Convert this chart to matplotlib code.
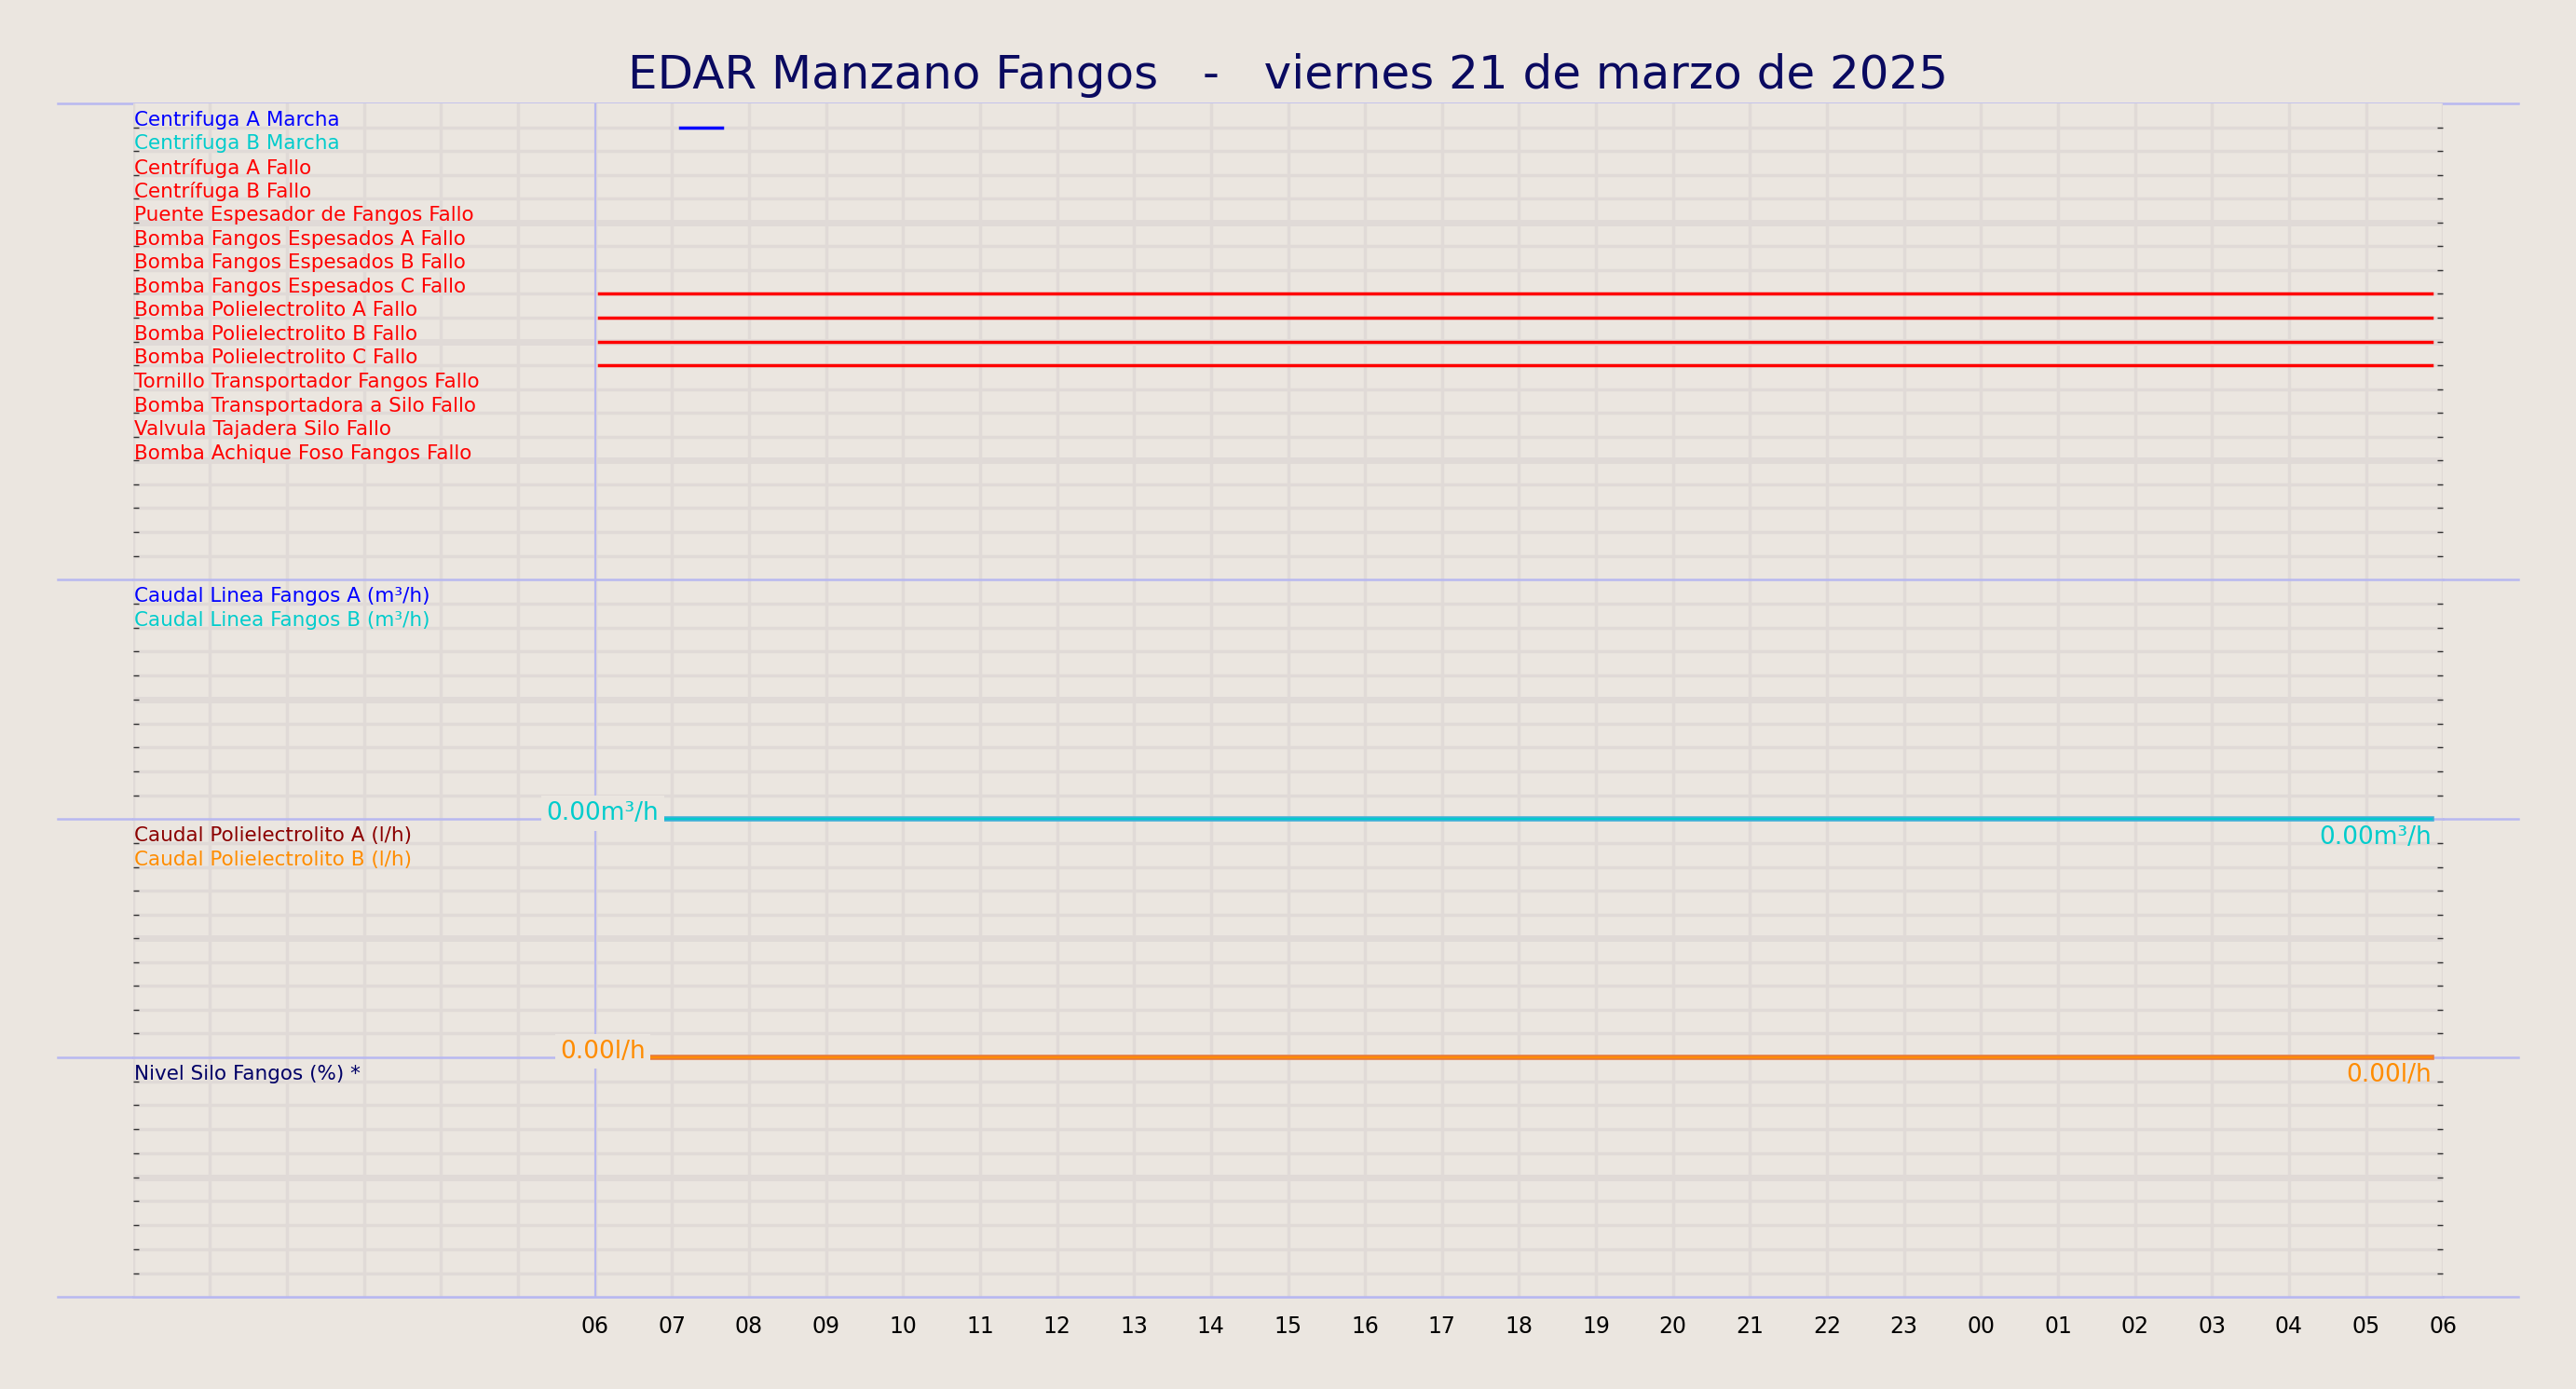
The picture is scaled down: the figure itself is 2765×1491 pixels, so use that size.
import matplotlib
matplotlib.use("Agg")
import matplotlib.pyplot as plt
import numpy as np

title = "EDAR Manzano Fangos   -   viernes 21 de marzo de 2025"
digital_labels = ["Centrifuga A Marcha", "Centrifuga B Marcha", "Centrífuga A Fallo", "Centrífuga B Fallo",
                  "Puente Espesador de Fangos Fallo", "Bomba Fangos Espesados A Fallo",
                  "Bomba Fangos Espesados B Fallo", "Bomba Fangos Espesados C Fallo",
                  "Bomba Polielectrolito A Fallo", "Bomba Polielectrolito B Fallo",
                  "Bomba Polielectrolito C Fallo", "Tornillo Transportador Fangos Fallo",
                  "Bomba Transportadora a Silo Fallo", "Valvula Tajadera Silo Fallo",
                  "Bomba Achique Foso Fangos Fallo"]
digital_colors = ["#0000ff", "#00cccc"] + ["#ff0000"] * 13
# active intervals (hours from 00:00) per signal index
digital_on = {0: [(7.1, 7.65)], 7: [(6.05, 29.85)], 8: [(6.05, 29.85)],
              9: [(6.05, 29.85)], 10: [(6.05, 29.85)]}
tick_hours = list(range(6, 31))
tick_labels = ["%02d" % (h % 24) for h in tick_hours]

bg = "#ebe6e0"
grid = "#e0dad7"
lav = "#b8b8f0"

fig = plt.figure(figsize=(27.65, 14.91), dpi=100, facecolor=bg)
L, R = 81/1568, 1487/1568
tops = [63, 353, 499, 644]
bots = [353, 499, 644, 790]
nrows = [20, 10, 10, 10]
axes = []
for k, (t, b, n) in enumerate(zip(tops, bots, nrows)):
    ax = fig.add_axes([L, 1 - b/846, R - L, (b - t)/846], facecolor=bg)
    ax.set_zorder(4 - k)
    ax.set_xlim(0, 30)
    ax.set_ylim(n, 0)
    for h in range(0, 31):
        ax.axvline(h, color=grid, lw=2.5, zorder=0)
    for r in range(1, n):
        ax.axhline(r, color=grid, lw=5 if r % 5 == 0 else 2.5, zorder=0)
    ax.axvline(6, color=lav, lw=1.5, zorder=1)
    ax.axhline(n, color=lav, lw=1.8, zorder=1, clip_on=False)
    for s in ax.spines.values():
        s.set_visible(False)
    ax.set_yticks(np.arange(1, n))
    ax.set_yticklabels([])
    ax.tick_params(axis="y", left=True, right=True, length=4, width=1, colors="#333333", direction="in")
    ax.set_xticks([])
    axes.append(ax)

# separators (outer parts)
for y in [63, 353, 499, 644, 790]:
    fig.add_artist(plt.Line2D([35/1568, 1533/1568], [1 - y/846] * 2, color=lav, lw=1.8, zorder=0.5))

fs = 15.5
ax = axes[0]
for i, (lab, c) in enumerate(zip(digital_labels, digital_colors)):
    ax.text(0.02, i + 0.7, lab, color=c, fontsize=fs, va="center")
    for a, b in digital_on.get(i, []):
        ax.plot([a, b], [i + 1, i + 1], color=c, lw=2.5, zorder=3)

ax = axes[1]
ax.text(0.02, 0.7, "Caudal Linea Fangos A (m³/h)", color="#0000ff", fontsize=fs, va="center")
ax.text(0.02, 1.7, "Caudal Linea Fangos B (m³/h)", color="#00cccc", fontsize=fs, va="center")
ax.plot([6.85, 29.85], [10, 10], color="#3bb0d8", lw=4, zorder=3, clip_on=False)
ax.plot([6.85, 29.85], [10, 10], color="#00cccc", lw=1.5, zorder=4, clip_on=False)
ax.text(6.1, 9.75, "0.00m³/h", color="#00cccc", fontsize=19, ha="center", va="center",
        bbox=dict(fc=bg, ec="none", pad=4), zorder=5)
ax.text(29.85, 10.25, "0.00m³/h", color="#00cccc", fontsize=19, ha="right", va="top", zorder=5)

ax = axes[2]
ax.text(0.02, 0.7, "Caudal Polielectrolito A (l/h)", color="#8b0000", fontsize=fs, va="center")
ax.text(0.02, 1.7, "Caudal Polielectrolito B (l/h)", color="#ff8c00", fontsize=fs, va="center")
ax.plot([6.65, 29.85], [10, 10], color="#e87a3a", lw=4, zorder=3, clip_on=False)
ax.plot([6.65, 29.85], [10, 10], color="#ff8c00", lw=1.5, zorder=4, clip_on=False)
ax.text(6.1, 9.75, "0.00l/h", color="#ff8c00", fontsize=19, ha="center", va="center",
        bbox=dict(fc=bg, ec="none", pad=4), zorder=5)
ax.text(29.85, 10.25, "0.00l/h", color="#ff8c00", fontsize=19, ha="right", va="top", zorder=5)

ax = axes[3]
ax.text(0.02, 0.7, "Nivel Silo Fangos (%) *", color="#000066", fontsize=fs, va="center")
ax.set_xticks(tick_hours)
ax.set_xticklabels(tick_labels, fontsize=17)
ax.tick_params(axis="x", length=0, pad=14)

fig.text(0.5, 1 - 46/846, title, ha="center", va="center", fontsize=36, color="#0a0a60")
fig.savefig("out.png", dpi=100, facecolor=bg)
